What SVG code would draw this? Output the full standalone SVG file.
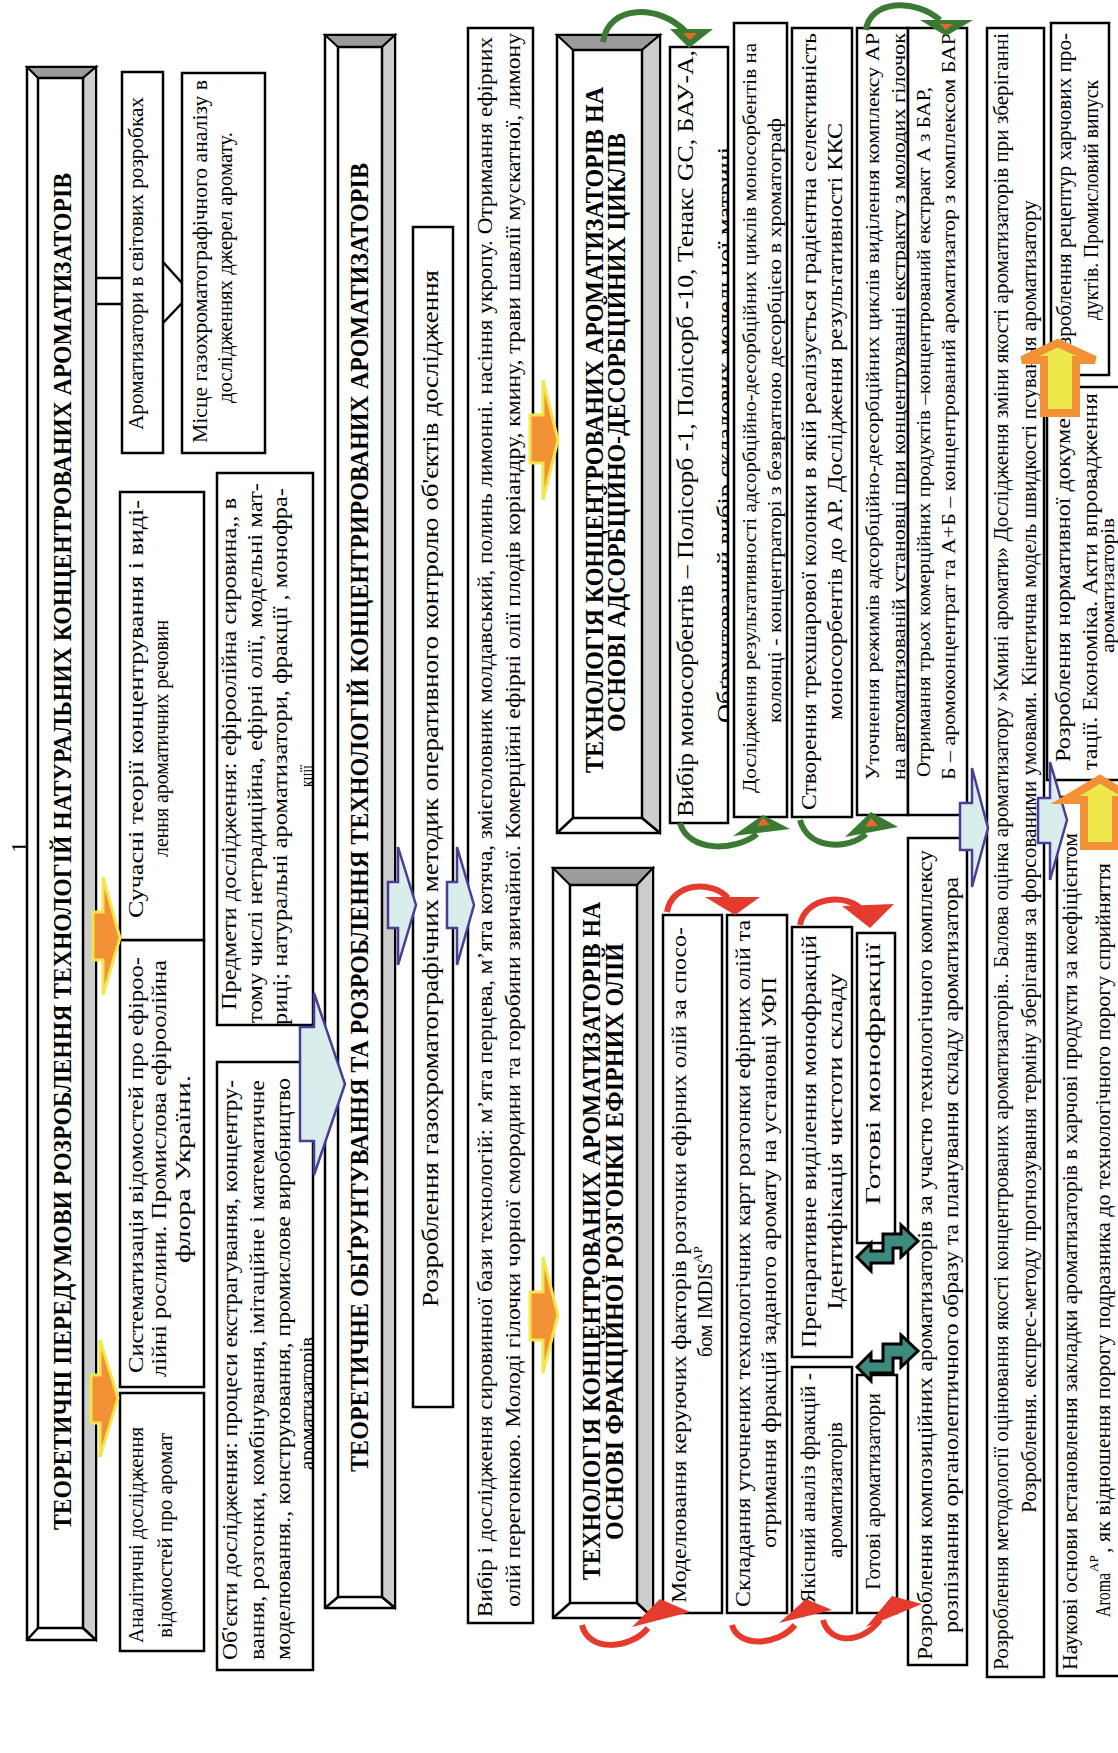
<svg xmlns="http://www.w3.org/2000/svg" width="1118" height="1753" viewBox="0 0 1118 1753">
<style>
.bx{fill:#fff;stroke:#000;stroke-width:2.5}
.t{font-family:"Liberation Serif","Times New Roman",serif;fill:#000}
.h{font-weight:bold;font-size:25px}
.dk{fill:#9b9b9b;stroke:#000;stroke-width:2}
.lt{fill:#cdcdcd;stroke:#000;stroke-width:2}
.ln{stroke:#000;stroke-width:2.5;fill:none}
.ba{fill:#daeded;stroke:#483f92;stroke-width:2.5}
.oa{fill:#f29136;stroke:#f2e64a;stroke-width:3}
.ua{fill:#eee84a;stroke:#f29136;stroke-width:8}
.ta{fill:#3e8a7f;stroke:#000;stroke-width:3;stroke-linejoin:miter}
.gc{fill:none;stroke:#3b7a33;stroke-width:6}
.gh{fill:#3b7a33}
.rc{fill:none;stroke:#e53b2f;stroke-width:6}
.rh{fill:#e53b2f}
.tip{fill:#e8692a}
</style>
<defs>
<clipPath id="cp7"><rect x="83" y="217" width="608" height="96"/></clipPath>
<clipPath id="cp8"><rect x="728" y="217" width="552" height="96"/></clipPath>
<clipPath id="cp21"><rect x="930" y="670" width="776" height="58"/></clipPath>
<clipPath id="cp24"><rect x="938" y="857" width="787" height="51"/></clipPath>
</defs>
<rect width="1118" height="1753" fill="#fff"/>
<g transform="translate(0,1753) rotate(-90)">
<g id="label-1"><text class="t" x="906" y="27" font-size="24" text-anchor="middle">1</text></g>
<g id="title1">
<rect class="bx" x="113" y="27" width="1573" height="69"/>
<polygon class="dk" points="1675,38 1686,27 1686,96 1675,83"/>
<polygon class="lt" points="125,83 1675,83 1686,96 113,96"/>
<rect class="bx" x="125" y="38" width="1550" height="45"/>
<line class="ln" x1="113" y1="27" x2="125" y2="38"/><line class="ln" x1="113" y1="96" x2="125" y2="83"/>
<text class="t h" x="223" y="71" textLength="1357" lengthAdjust="spacingAndGlyphs">ТЕОРЕТИЧНІ ПЕРЕДУМОВИ РОЗРОБЛЕННЯ ТЕХНОЛОГІЙ НАТУРАЛЬНИХ КОНЦЕНТРОВАНИХ АРОМАТИЗАТОРІВ</text>
</g>
<g id="n-analitychni">
<rect class="bx" x="102" y="120" width="258" height="84"/>
<text class="t" font-size="22" x="110" y="143" textLength="216" lengthAdjust="spacingAndGlyphs">Аналітичні дослідження</text>
<text class="t" font-size="22" x="115" y="172" textLength="205" lengthAdjust="spacingAndGlyphs">відомостей про аромат</text>
</g>
<g id="n-systematyzatsiia">
<rect class="bx" x="366" y="120" width="447" height="84"/>
<text class="t" font-size="21" x="380" y="143" textLength="416" lengthAdjust="spacingAndGlyphs">Систематизація відомостей про ефіроо-</text>
<text class="t" font-size="21" x="376" y="166" textLength="417" lengthAdjust="spacingAndGlyphs">лійні рослини. Промислова ефіроолійна</text>
<text class="t" font-size="21" x="490" y="190" textLength="188" lengthAdjust="spacingAndGlyphs">флора України.</text>
</g>
<g id="n-suchasni">
<rect class="bx" x="813" y="120" width="448" height="84"/>
<text class="t" font-size="22" x="835" y="143" textLength="418" lengthAdjust="spacingAndGlyphs">Сучасні теорії концентрування і виді-</text>
<text class="t" font-size="22" x="896" y="168" textLength="237" lengthAdjust="spacingAndGlyphs">лення ароматичних речовин</text>
</g>
<g id="n-aromatyzatory-svit">
<rect class="bx" x="1300" y="122" width="381" height="41"/>
<text class="t" font-size="21" x="1323" y="143" textLength="333" lengthAdjust="spacingAndGlyphs">Ароматизатори в світових розробках</text>
</g>
<g id="n-mistse">
<rect class="bx" x="1300" y="182" width="380" height="83"/>
<text class="t" font-size="22" x="1310" y="207" textLength="363" lengthAdjust="spacingAndGlyphs">Місце газохроматографічного аналізу в</text>
<text class="t" font-size="22" x="1350" y="232" textLength="271" lengthAdjust="spacingAndGlyphs">дослідженнях джерел аромату.</text>
</g>
<g id="n-obiekty">
<rect class="bx" x="83" y="217" width="608" height="96"/>
<g clip-path="url(#cp7)">
<text class="t" font-size="21.5" x="93" y="237" textLength="580" lengthAdjust="spacingAndGlyphs">Об'єкти дослідження: процеси екстрагування, концентру-</text>
<text class="t" font-size="21.5" x="93" y="264" textLength="580" lengthAdjust="spacingAndGlyphs">вання, розгонки, комбінування, імітаційне і математичне</text>
<text class="t" font-size="21.5" x="93" y="290" textLength="582" lengthAdjust="spacingAndGlyphs">моделювання., конструювання,  промислове виробництво</text>
<text class="t" font-size="21.5" x="283" y="314" textLength="133" lengthAdjust="spacingAndGlyphs">ароматизаторів</text>
</g>
</g>
<g id="n-predmety">
<rect class="bx" x="728" y="217" width="552" height="96"/>
<g clip-path="url(#cp8)">
<text class="t" font-size="22" x="743" y="236" textLength="512" lengthAdjust="spacingAndGlyphs">Предмети дослідження: ефіроолійна сировина,, в</text>
<text class="t" font-size="22" x="730" y="262" textLength="540" lengthAdjust="spacingAndGlyphs">тому числі нетрадиційна, ефірні олії, модельні мат-</text>
<text class="t" font-size="22" x="728" y="287" textLength="537" lengthAdjust="spacingAndGlyphs">риці; натуральні ароматизатори, фракції , монофра-</text>
<text class="t" font-size="22" x="966" y="314" textLength="22" lengthAdjust="spacingAndGlyphs">кції</text>
</g>
</g>
<g id="title2">
<rect class="bx" x="145" y="325" width="1573" height="70"/>
<polygon class="dk" points="1706,338 1718,325 1718,395 1706,382"/>
<polygon class="lt" points="156,382 1706,382 1718,395 145,395"/>
<rect class="bx" x="156" y="338" width="1550" height="44"/>
<line class="ln" x1="145" y1="325" x2="156" y2="338"/><line class="ln" x1="145" y1="395" x2="156" y2="382"/>
<text class="t h" x="281" y="368" textLength="1309" lengthAdjust="spacingAndGlyphs">ТЕОРЕТИЧНЕ ОБҐРУНТУВАННЯ  ТА РОЗРОБЛЕННЯ ТЕХНОЛОГІЙ КОНЦЕНТРИРОВАНИХ АРОМАТИЗАТОРІВ</text>
</g>
<g id="n-hazokhrom">
<rect class="bx" x="346" y="413" width="1180" height="40"/>
<text class="t" font-size="23" x="446" y="438" textLength="1037" lengthAdjust="spacingAndGlyphs">Розроблення газохроматографічних методик оперативного контролю об'єктів дослідження</text>
</g>
<g id="n-vybir-syrovyny">
<rect class="bx" x="130" y="468" width="1595" height="65"/>
<text class="t" font-size="22" x="136" y="492" textLength="1580" lengthAdjust="spacingAndGlyphs">Вибір і дослідження сировинної бази технологій: м’ята перцева, м’ята котяча, змієголовник молдавський, полинь лимонні. насіння укропу. Отримання ефірних</text>
<text class="t" font-size="22" x="146" y="520" textLength="1574" lengthAdjust="spacingAndGlyphs">олій  перегонкою. Молоді гілочки чорної смородини та горобини звичайної. Комерційні ефірні олії плодів коріандру, кмину, трави шавлії мускатної, лимону</text>
</g>
<g id="title-fraktsiina">
<rect class="bx" x="135" y="553" width="750" height="100"/>
<polygon class="dk" points="868,570 885,553 885,653 868,637"/>
<polygon class="lt" points="150,637 868,637 885,653 135,653"/>
<rect class="bx" x="150" y="570" width="718" height="67"/>
<line class="ln" x1="135" y1="553" x2="150" y2="570"/><line class="ln" x1="135" y1="653" x2="150" y2="637"/>
<text class="t h" x="173" y="600" textLength="678" lengthAdjust="spacingAndGlyphs">ТЕХНОЛОГІЯ КОНЦЕНТРОВАНИХ АРОМАТИЗАТОРІВ НА</text>
<text class="t h" x="213" y="623" textLength="597" lengthAdjust="spacingAndGlyphs">ОСНОВІ ФРАКЦІЙНОЇ РОЗГОНКИ ЕФІРНИХ ОЛІЙ</text>
</g>
<g id="title-adsorbtsiina">
<rect class="bx" x="920" y="557" width="798" height="103"/>
<polygon class="dk" points="1703,573 1718,557 1718,660 1703,642"/>
<polygon class="lt" points="935,642 1703,642 1718,660 920,660"/>
<rect class="bx" x="935" y="573" width="768" height="69"/>
<line class="ln" x1="920" y1="557" x2="935" y2="573"/><line class="ln" x1="920" y1="660" x2="935" y2="642"/>
<text class="t h" x="980" y="603" textLength="686" lengthAdjust="spacingAndGlyphs">ТЕХНОЛОГІЯ КОНЦЕНТРОВАНИХ АРОМАТИЗАТОРІВ НА</text>
<text class="t h" x="1021" y="625" textLength="599" lengthAdjust="spacingAndGlyphs">ОСНОВІ АДСОРБЦІЙНО-ДЕСОРБЦІЙНИХ ЦИКЛІВ</text>
</g>
<g id="n-modeliuvannia">
<rect class="bx" x="140" y="663" width="698" height="59"/>
<text class="t" font-size="21" x="150" y="686" textLength="676" lengthAdjust="spacingAndGlyphs">Моделювання керуючих факторів розгонки ефірних олій  за спосо-</text>
<text class="t" font-size="21" x="396" y="712" textLength="94" lengthAdjust="spacingAndGlyphs">бом IMDIS</text>
<text class="t" font-size="13" x="490" y="702">AP</text>
</g>
<g id="n-skladannia">
<rect class="bx" x="140" y="727" width="698" height="60"/>
<text class="t" font-size="21" x="146" y="750" textLength="687" lengthAdjust="spacingAndGlyphs">Складання уточнених технологічних карт розгонки  ефірних олій  та</text>
<text class="t" font-size="21" x="205" y="776" textLength="571" lengthAdjust="spacingAndGlyphs">отримання фракцій заданого аромату на установці УФП</text>
</g>
<g id="n-yakisnyi">
<rect class="bx" x="140" y="792" width="246" height="60"/>
<text class="t" font-size="21" x="150" y="815" textLength="230" lengthAdjust="spacingAndGlyphs">Якісний аналіз фракцій -</text>
<text class="t" font-size="21" x="195" y="842" textLength="136" lengthAdjust="spacingAndGlyphs">ароматизаторів</text>
</g>
<g id="n-preparatyvne">
<rect class="bx" x="396" y="792" width="430" height="60"/>
<text class="t" font-size="21" x="405" y="816" textLength="413" lengthAdjust="spacingAndGlyphs">Препаративне виділення монофракцій</text>
<text class="t" font-size="21" x="443" y="842" textLength="337" lengthAdjust="spacingAndGlyphs">Ідентифікація чистоти складу</text>
</g>
<g id="n-gotovi-aromatyzatory">
<rect class="bx" x="140" y="857" width="238" height="40"/>
<text class="t" font-size="22" x="163" y="880" textLength="197" lengthAdjust="spacingAndGlyphs">Готові ароматизатори</text>
</g>
<g id="n-gotovi-monofraktsii">
<rect class="bx" x="510" y="857" width="310" height="38"/>
<text class="t" font-size="22" x="548" y="880" textLength="262" lengthAdjust="spacingAndGlyphs">Готові монофракції</text>
</g>
<g id="n-kompozytsiini">
<rect class="bx" x="88" y="908" width="827" height="59"/>
<text class="t" font-size="21" x="93" y="932" textLength="810" lengthAdjust="spacingAndGlyphs">Розроблення композиційних ароматизаторів за участю технологічного комплексу</text>
<text class="t" font-size="21" x="120" y="958" textLength="756" lengthAdjust="spacingAndGlyphs">розпізнання органолептичного образу та планування складу ароматизатора</text>
</g>
<g id="n-vybir-sorbentiv">
<rect class="bx" x="930" y="670" width="776" height="58"/>
<text class="t" font-size="24" x="936" y="693" textLength="767" lengthAdjust="spacingAndGlyphs">Вибір моносорбентів – Полісорб -1, Полісорб -10, Тенакс GC, БАУ-А,</text>
<g clip-path="url(#cp21)"><text class="t" font-size="23" x="1030" y="733" textLength="576" lengthAdjust="spacingAndGlyphs">Обґрунтований вибір складових модельної матриці</text></g>
</g>
<g id="n-doslidzhennia-rezult">
<rect class="bx" x="936" y="734" width="794" height="53"/>
<text class="t" font-size="19" x="960" y="756" textLength="750" lengthAdjust="spacingAndGlyphs">Дослідження результативності адсорбційно-десорбційних циклів моносорбентів на</text>
<text class="t" font-size="19" x="1030" y="781" textLength="605" lengthAdjust="spacingAndGlyphs">колонці - концентраторі з безвратною десорбцією в хроматограф</text>
</g>
<g id="n-stvorennia">
<rect class="bx" x="936" y="792" width="789" height="60"/>
<text class="t" font-size="21" x="943" y="816" textLength="777" lengthAdjust="spacingAndGlyphs">Створення трехшарової колонки  в якій реалізується градієнтна селективність</text>
<text class="t" font-size="21" x="1033" y="842" textLength="597" lengthAdjust="spacingAndGlyphs">моносорбентів до АР. Дослідження результативності ККС</text>
</g>
<g id="n-utochnennia">
<rect class="bx" x="938" y="857" width="787" height="51"/>
<g clip-path="url(#cp24)">
<text class="t" font-size="18" x="973" y="879" textLength="747" lengthAdjust="spacingAndGlyphs">Уточнення режимів адсорбційно-десорбційних циклів виділення комплексу АР</text>
<text class="t" font-size="18" x="973" y="905" textLength="747" lengthAdjust="spacingAndGlyphs">на автоматизованій установці при концентруванні екстракту з молодих гілочок</text>
</g>
</g>
<g id="n-otrymannia">
<rect class="bx" x="938" y="908" width="787" height="59"/>
<text class="t" font-size="19" x="976" y="930" textLength="690" lengthAdjust="spacingAndGlyphs">Отримання трьох комерційних продуктів –концентрований екстракт А з БАР,</text>
<text class="t" font-size="19" x="973" y="955" textLength="747" lengthAdjust="spacingAndGlyphs">Б – аромоконцентрат та А+Б – концентрований ароматизатор з комплексом БАР</text>
</g>
<g id="n-metodolohiia">
<rect class="bx" x="76" y="987" width="1649" height="57"/>
<text class="t" font-size="21" x="83" y="1008" textLength="1637" lengthAdjust="spacingAndGlyphs">Розроблення методології оцінювання якості концентрованих ароматизаторів.. Балова оцінка ароматизатору »Кмині аромати»  Дослідження зміни якості ароматизаторів при зберіганні</text>
<text class="t" font-size="21" x="240" y="1036" textLength="1313" lengthAdjust="spacingAndGlyphs">Розроблення. експрес-методу прогнозування терміну зберігання за форсованими умовами.  Кінетична модель швидкості псування ароматизатору</text>
</g>
<g id="n-naukovi">
<rect class="bx" x="77" y="1057" width="879" height="75"/>
<text class="t" font-size="20" x="83" y="1077" textLength="837" lengthAdjust="spacingAndGlyphs">Наукові основи встановлення закладки ароматизаторів в харчові продукти за коефіцієнтом</text>
<text class="t" font-size="20" x="136" y="1110" textLength="44" lengthAdjust="spacingAndGlyphs">Aroma</text>
<text class="t" font-size="13" x="181" y="1098">AP</text>
<text class="t" font-size="20" x="200" y="1110" textLength="690" lengthAdjust="spacingAndGlyphs">, як відношення порогу подразника до технологічного порогу сприйняття</text>
</g>
<g id="n-normatyvna">
<rect class="bx" x="973" y="1047" width="393" height="85"/>
<text class="t" font-size="20" x="991" y="1070" textLength="365" lengthAdjust="spacingAndGlyphs">Розроблення  нормативної докумен-</text>
<text class="t" font-size="20" x="983" y="1097" textLength="377" lengthAdjust="spacingAndGlyphs">тації. Економіка. Акти впровадження</text>
<text class="t" font-size="18" x="1100" y="1114" textLength="135" lengthAdjust="spacingAndGlyphs">ароматизаторів</text>
</g>
<g id="n-retseptury">
<rect class="bx" x="1378" y="1051" width="352" height="58"/>
<text class="t" font-size="21" x="1386" y="1071" textLength="334" lengthAdjust="spacingAndGlyphs">Розроблення рецептур харчових про-</text>
<text class="t" font-size="21" x="1433" y="1098" textLength="240" lengthAdjust="spacingAndGlyphs">дуктів. Промисловий випуск</text>
</g>
</g>
<g id="connectors">
<line class="ln" x1="96" y1="278" x2="122" y2="278"/>
<line class="ln" x1="96" y1="304" x2="122" y2="304"/>
<polyline class="ln" points="163,262 182,283"/>
<polyline class="ln" points="182,303 163,323"/>
<polygon class="oa" points="91,1375 100,1375 100,1340 118,1398 100,1457 100,1423 91,1423"/>
<polygon class="oa" points="93,912 103,912 103,877 120,938 103,995 103,960 93,960"/>
<polygon class="oa" points="530,415 543,415 543,380 558,440 543,500 543,463 530,463"/>
<polygon class="oa" points="530,1292 543,1292 543,1257 558,1315 543,1373 543,1340 530,1340"/>
<polygon class="ba" points="300,1027 314,1027 314,993 345,1084 314,1175 314,1141 300,1141"/>
<polygon class="ba" points="388,882 398,882 398,847 416,905 398,965 398,928 388,928"/>
<polygon class="ba" points="447,882 457,882 457,847 474,905 457,965 457,928 447,928"/>
<polygon class="ba" points="960,803 972,803 972,768 988,828 972,887 972,850 960,850"/>
<polygon class="ba" points="1038,798 1050,798 1050,762 1067,820 1050,880 1050,843 1038,843"/>
<polygon class="ua" points="1044,413 1044,360 1022,360 1058,343 1095,360 1076,360 1076,413"/>
<polygon class="ua" points="1084,846 1084,800 1065,800 1100,779 1135,800 1116,800 1116,846"/>
<polygon class="ta" transform="translate(857,1225)" points="0,32 14,18 14,26 26,26 26,9 44,9 44,0 61,16 44,32 44,23 36,23 36,38 14,38 14,46"/>
<polygon class="ta" transform="translate(857,1335)" points="0,32 14,18 14,26 26,26 26,9 44,9 44,0 61,16 44,32 44,23 36,23 36,38 14,38 14,46"/>
<path class="gc" d="M603,42 C608,4 660,4 686,32"/>
<polygon class="gh" points="670,29 713,29 689,48"/>
<polygon class="tip" points="683,33 697,33 690,40"/>
<path class="gc" d="M680,823 C688,852 735,852 757,834"/>
<polygon class="gh" points="733,836 790,829 763,815"/>
<polygon class="tip" points="757,826 770,825 763,818"/>
<path class="gc" d="M800,820 C808,850 848,850 866,834"/>
<polygon class="gh" points="845,837 898,827 871,812"/>
<polygon class="tip" points="865,827 878,826 871,818"/>
<path class="gc" d="M866,30 C870,0 915,-2 940,20"/>
<polygon class="gh" points="920,20 973,20 946,36"/>
<polygon class="tip" points="940,24 953,24 946,30"/>
<path class="rc" d="M667,912 C672,882 712,880 728,898"/>
<polygon class="rh" points="705,897 760,897 735,915"/>
<path class="rc" d="M800,925 C805,896 848,893 862,910"/>
<polygon class="rh" points="842,906 894,904 870,928"/>
<path class="rc" d="M582,1625 C588,1652 630,1650 648,1628"/>
<polygon class="rh" points="632,1627 690,1612 660,1599"/>
<path class="rc" d="M732,1625 C738,1648 778,1646 795,1625"/>
<polygon class="rh" points="779,1623 832,1610 806,1599"/>
<path class="rc" d="M823,1620 C830,1645 862,1644 880,1620"/>
<polygon class="rh" points="866,1627 922,1604 892,1596"/>
</g>
</svg>
